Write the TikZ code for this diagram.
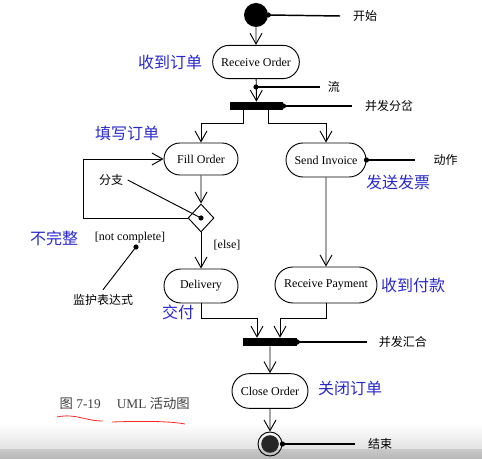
\documentclass[tikz,border=0pt]{standalone}
\usepackage{fontspec}
\setmainfont{Liberation Serif}
\newfontfamily\cjk{Noto Sans CJK SC}
\usetikzlibrary{arrows.meta,shapes.misc,shapes.geometric,calc}

\definecolor{tagblue}{RGB}{40,40,205}

\tikzset{
  act/.style={draw, rounded rectangle, line width=0.7pt, font=\fontsize{9}{10}\selectfont, inner sep=0pt},
  bar/.style={fill=black, inner sep=0pt, minimum height=6pt},
  flow/.style={line width=0.7pt, -{Straight Barb[length=8pt,width=9pt]}},
  note/.style={line width=1.1pt},
  tag/.style={font=\cjk\fontsize{9}{10}\selectfont},
  bluetag/.style={text=tagblue, font=\cjk\fontsize{12}{14}\selectfont}
}

\newcommand{\dotat}[1]{\fill #1 circle (2.6);}

\begin{document}
\begin{tikzpicture}[x=0.75pt, y=-0.75pt]
  \useasboundingbox (0,0) rectangle (482,459);

  % Draw the grey strip of the screen at the bottom
  \shade[top color=white, bottom color=black!12] (0,424) rectangle (482,450);
  \shade[top color=black!22, bottom color=black!28] (0,450) rectangle (482,459);

  % Draw the start and end points
  \node[circle, fill=black, minimum size=18pt, inner sep=0pt] (start) at (256,15) {};
  \node[circle, draw, line width=0.7pt, minimum size=18pt, inner sep=0pt,
        path picture={\fill[black!85] (path picture bounding box.center) circle (6.6pt);}] (finish) at (270,444) {};

  % Draw the activities
  \node[act, minimum width=65pt, minimum height=25pt] (recv) at (256,62) {Receive Order};
  \node[act, minimum width=55.5pt, minimum height=24pt] (fill) at (201,159) {Fill Order};
  \node[act, minimum width=60pt, minimum height=25.5pt] (send) at (326,160) {Send Invoice};
  \node[act, minimum width=55.5pt, minimum height=25.5pt] (deliv) at (201,286) {Delivery};
  \node[act, minimum width=76.5pt, minimum height=27pt] (pay) at (326,285) {Receive Payment};
  \node[act, minimum width=57pt, minimum height=26pt] (close) at (270,391) {Close Order};

  % Draw the fork, the join and the branch
  \node[bar, minimum width=40pt] (fork) at (256.5,106) {};
  \node[bar, minimum width=40.5pt] (join) at (270,342) {};
  \node[diamond, draw, line width=0.7pt, minimum width=19.5pt, minimum height=21pt, inner sep=0pt] (dec) at (201,218) {};

  % Draw the flows
  \draw[flow] (start) -- (recv);
  \draw[flow] (recv) -- (fork);
  \draw[flow] ([xshift=-10pt]fork.south) -- ++(0,13) -| (fill.north);
  \draw[flow] ([xshift=8.6pt]fork.south) -- ++(0,13) -| (send.north);
  \draw[flow] (fill) -- (dec);
  \draw[flow] (dec.west) -- ++(-104,0) |- (fill.west);
  \draw[flow] (dec) -- (deliv);
  \draw[flow] (send) -- (pay);
  \draw[flow] (deliv.south) -- ++(0,15) -| ([xshift=-9.75pt]join.north);
  \draw[flow] (pay.south) -- ++(0,15) -| ([xshift=7.5pt]join.north);
  \draw[flow] (join) -- (close);
  \draw[flow] (close) -- (finish);

  % Draw the notes on the right
  \coordinate (f1) at (256,87);
  \dotat{(start.east)}
  \draw[note] (start.east) -- (340,16) node[tag, right=6pt] (nstart) {开始};
  \dotat{(f1)}
  \draw[note] (f1) -- (320,87) node[tag, right=2pt] (nflow) {流};
  \dotat{(fork.east)}
  \draw[note] (fork.east) -- (352,106) node[tag, right=6pt] (nfork) {并发分岔};
  \dotat{(send.east)}
  \draw[note] (send.east) -- (415,160) node[tag, right=10pt] (nsend) {动作};
  \dotat{(join.east)}
  \draw[note] (join.east) -- (367,342) node[tag, right=5pt] (njoin) {并发汇合};
  \dotat{(finish.east)}
  \draw[note] (finish.east) -- (355,444) node[tag, right=6pt] (nend) {结束};

  % Draw the notes on the left
  \node[tag] (nbranch) at (111,180) {分支};
  \dotat{(dec.center)}
  \draw[note, line width=0.7pt] (dec.center) -- (nbranch.east);
  \node[font=\fontsize{9}{10}\selectfont] (guard) at (130,238) {[not complete]};
  \node[font=\fontsize{9}{10}\selectfont] (els) at (227,245) {[else]};
  \coordinate (g1) at (136,247);
  \node[tag] (nguard) at (103,300) {监护表达式};
  \dotat{(g1)}
  \draw[note, line width=0.7pt] (g1) -- (nguard.north);

  % Draw the blue labels
  \node[bluetag] (brecv) at (170,62) {收到订单};
  \node[bluetag] (bfill) at (127,133) {填写订单};
  \node[bluetag] (bnot) at (54,238) {不完整};
  \node[bluetag] (bdeliv) at (178,312) {交付};
  \node[bluetag] (bsend) at (398,182) {发送发票};
  \node[bluetag] (bpay) at (413,285) {收到付款};
  \node[bluetag] (bclose) at (350,388) {关闭订单};

  % Draw the caption and the red marks under it
  \node[text=black!75, font=\fontsize{10}{12}\selectfont, anchor=west] (cap) at (55,403)
    {{\cjk 图} 7-19\hspace{1.2em}UML {\cjk 活动图}};
  \draw[red!85, line width=0.6pt] (57,417) .. controls (75,413) and (85,421) .. (103,421);
  \draw[red!85, line width=0.6pt] (112,422) .. controls (140,421) and (170,421) .. (185,424);
\end{tikzpicture}
\end{document}
